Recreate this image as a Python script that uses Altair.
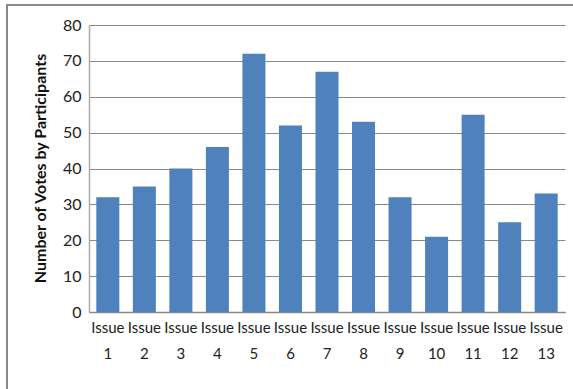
import altair as alt
import pandas as pd

issues = [f"Issue {i}" for i in range(1, 14)]
votes = [32, 35, 40, 46, 72, 52, 67, 53, 32, 21, 55, 25, 33]

df = pd.DataFrame({"issue": issues, "votes": votes})

font = "Lato"

bars = alt.Chart(df).mark_bar(color="#4F81BD").encode(
    x=alt.X("issue:N", sort=issues, title=None,
            scale=alt.Scale(paddingInner=0.37, paddingOuter=0.2),
            axis=alt.Axis(labelExpr="split(datum.label, ' ')", labelAngle=0,
                          labelFont=font, labelFontSize=15, labelColor="#222",
                          labelLineHeight=26, labelPadding=8, ticks=False,
                          domainColor="#888", domainWidth=1.5, labelBaseline="top")),
    y=alt.Y("votes:Q", title="Number of Votes by Participants",
            scale=alt.Scale(domain=[0, 80], nice=False),
            axis=alt.Axis(values=[0, 10, 20, 30, 40, 50, 60, 70, 80], ticks=False,
                          labelFont=font, labelFontSize=16, labelColor="#222",
                          labelPadding=8, gridColor="#888", gridWidth=1.2,
                          domainColor="#aaa", domainWidth=1.5,
                          titleFont=font, titleFontSize=16, titleFontWeight="bold",
                          titleColor="#111", titleX=-49, titleY=143,
                          titleAngle=-90, titleAlign="center", titleBaseline="middle")),
)

frame_top = alt.Chart(df).mark_rule(stroke="#888", strokeWidth=2, clip=False).encode(
    x=alt.value(-83), x2=alt.value(490), y=alt.value(-20), y2=alt.value(-20)
)
frame_left = alt.Chart(df).mark_rule(stroke="#888", strokeWidth=2, clip=False).encode(
    x=alt.value(-82), x2=alt.value(-82), y=alt.value(-21), y2=alt.value(400)
)

chart = alt.layer(bars, frame_top, frame_left).properties(
    width=476, height=287,
    padding={"left": 89, "top": 25, "right": 8, "bottom": 77},
    autosize=alt.AutoSizeParams(type="none"),
).configure_view(stroke=None)

chart.save("out.html", embed_options={"renderer": "svg", "actions": False})
